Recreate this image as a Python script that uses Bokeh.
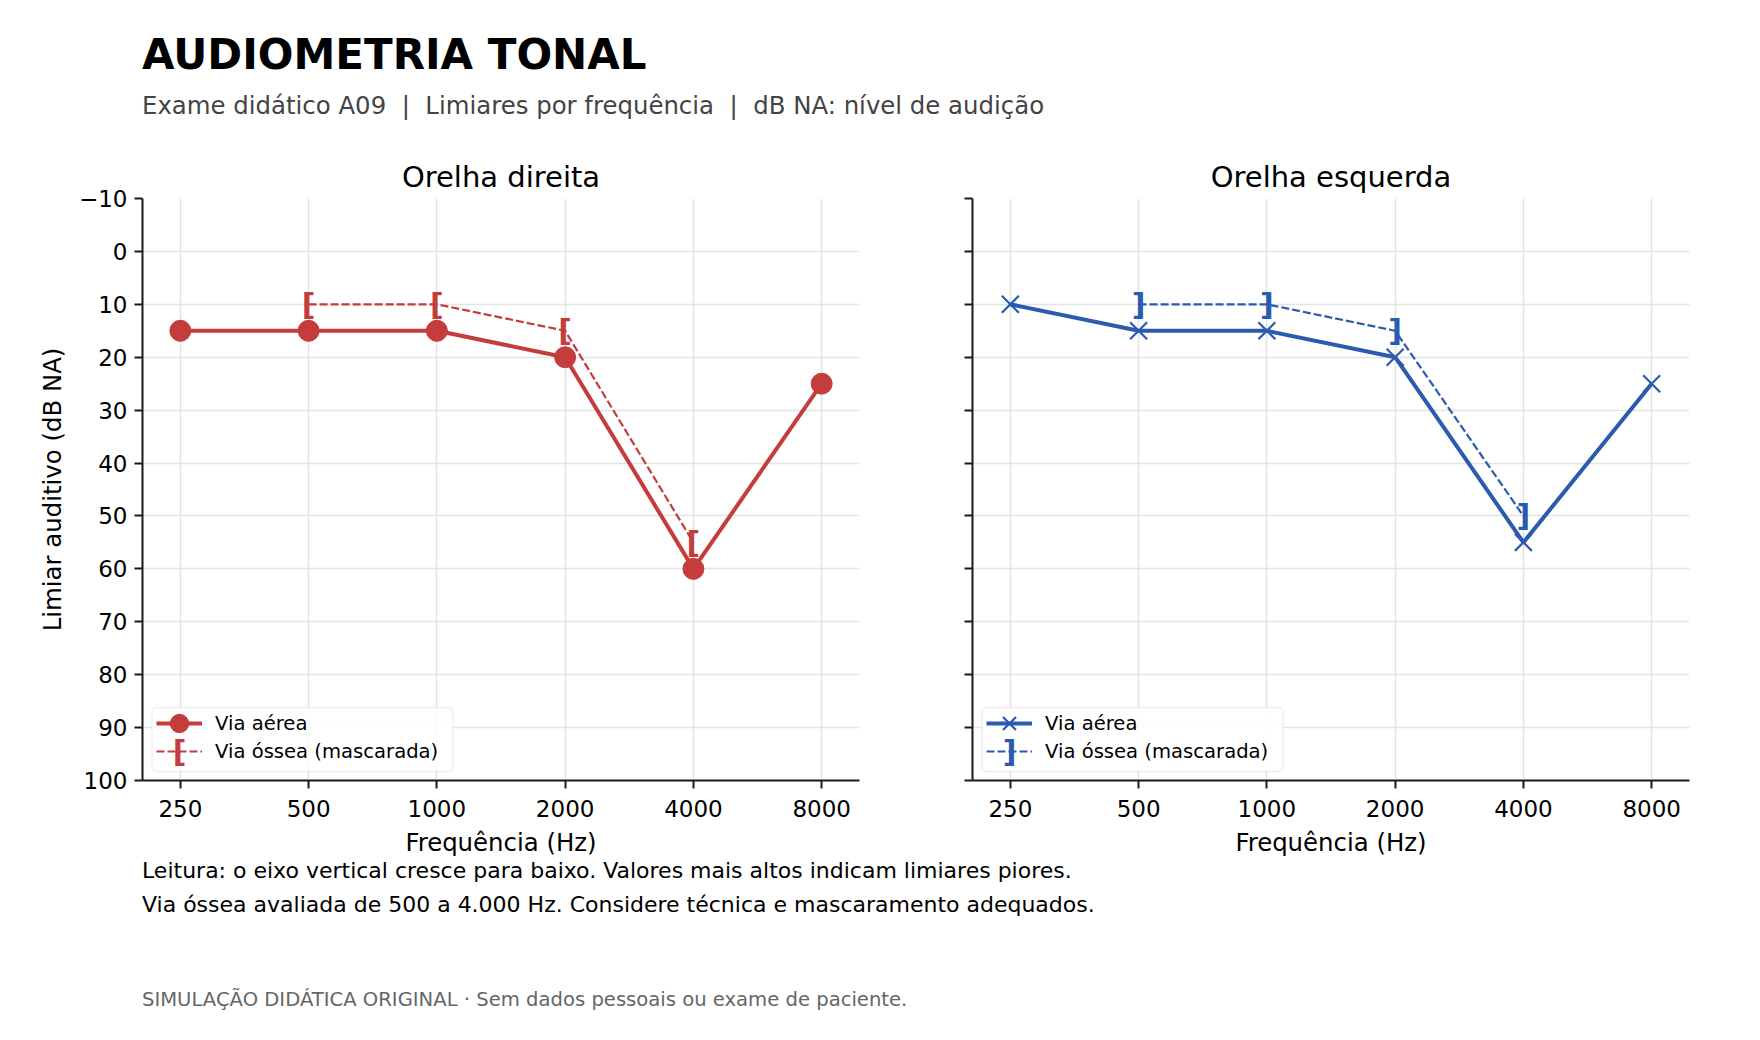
import math
from bokeh.plotting import figure
from bokeh.models import Range1d, FixedTicker, Legend, LegendItem, Label, BoxAnnotation
from bokeh.layouts import column, row
from bokeh.embed import file_html
from bokeh.resources import INLINE
from bokeh.core.properties import value

# ---------------- data ----------------
freqs = [250, 500, 1000, 2000, 4000, 8000]
freq_labels = ["250", "500", "1000", "2000", "4000", "8000"]
right_air = [15, 15, 15, 20, 60, 25]
left_air = [10, 15, 15, 20, 55, 25]
bone_freqs = [500, 1000, 2000, 4000]
right_bone = [10, 10, 15, 55]
left_bone = [10, 10, 15, 50]
yticks = [-10, 0, 10, 20, 30, 40, 50, 60, 70, 80, 90, 100]

RED = "#C43C3C"
BLUE = "#2A5BAF"
FONT = "DejaVu Sans"
DARK = "#1a1a1a"

FRAME_W = 717
FRAME_H = 582
X_PAD_OCT = 0.295


def legend_style(leg):
    leg.glyph_width = 46
    leg.glyph_height = 50
    leg.label_height = 22
    leg.label_standoff = 13
    leg.padding = 0
    leg.spacing = 0
    leg.margin = 0
    leg.label_text_font = FONT
    leg.label_text_font_size = "19.6px"
    leg.label_text_color = "black"
    leg.border_line_color = None
    leg.background_fill_color = None
    leg.background_fill_alpha = 0


def panel(title, air, bone, color, marker, bracket, first):
    xmin = freqs[0] / 2 ** X_PAD_OCT
    xmax = freqs[-1] * 2 ** X_PAD_OCT
    ybot, ytop = yticks[-1], yticks[0]
    p = figure(
        x_axis_type="log",
        x_range=Range1d(xmin, xmax),
        y_range=Range1d(ybot, ytop),
        frame_width=FRAME_W,
        frame_height=FRAME_H,
        min_border_left=142 if first else 20,
        min_border_right=93 if first else 40,
        min_border_top=68,
        min_border_bottom=76,
        toolbar_location=None,
        output_backend="svg",
        background_fill_color="white",
        border_fill_color="white",
    )
    p.outline_line_color = None

    # pixel offsets inside the frame -> data (legend frame / swatch only)
    px_oct = FRAME_W / math.log2(xmax / xmin)
    px_unit = FRAME_H / (ybot - ytop)

    def xd(px):
        return xmin * 2 ** (px / px_oct)

    def yd(px):
        return ybot - px / px_unit

    # title
    p.title.text = title
    p.title.align = "center"
    p.title.text_font = FONT
    p.title.text_font_size = "29px"
    p.title.text_font_style = "normal"
    p.title.text_color = "black"
    p.title.standoff = 10

    # ticks
    tick_x = FixedTicker(ticks=freqs)
    tick_y = FixedTicker(ticks=yticks)
    p.xaxis.ticker = tick_x
    p.yaxis.ticker = tick_y
    p.xgrid.ticker = tick_x
    p.ygrid.ticker = tick_y
    p.xaxis.major_label_overrides = {f: lab for f, lab in zip(freqs, freq_labels)}
    p.yaxis.major_label_overrides = {yticks[0]: "\u2212" + str(abs(yticks[0]))}

    for ax in (p.xaxis[0], p.yaxis[0]):
        ax.axis_line_width = 2
        ax.axis_line_color = DARK
        ax.major_tick_line_width = 2
        ax.major_tick_line_color = DARK
        ax.major_tick_out = 8
        ax.major_tick_in = 0
        ax.minor_tick_out = 0
        ax.minor_tick_in = 0
        ax.major_label_text_font = FONT
        ax.major_label_text_font_size = "23px"
        ax.major_label_text_color = "black"
        ax.axis_label_text_font = FONT
        ax.axis_label_text_font_size = "24.4px"
        ax.axis_label_text_font_style = "normal"
        ax.axis_label_text_color = "black"

    p.xaxis.major_label_standoff = 11
    p.yaxis.major_label_standoff = 7
    p.xaxis.axis_label = "Frequência (Hz)"
    p.xaxis.axis_label_standoff = 8
    if first:
        p.yaxis.axis_label = "Limiar auditivo (dB NA)"
        p.yaxis.axis_label_standoff = 9
    else:
        p.yaxis.major_label_text_font_size = "0px"
        p.yaxis.major_label_text_alpha = 0

    p.grid.grid_line_color = "#e4e4e4"
    p.grid.grid_line_width = 1.6

    # glyphs
    bone_line = p.line(bone_freqs, bone, line_color=color, line_width=2.2, line_dash="8 3")
    air_line = p.line(freqs, air, line_color=color, line_width=4)
    if marker == "circle":
        air_pts = p.scatter(freqs, air, marker="circle", size=21, fill_color=color, line_color=color)
    else:
        air_pts = p.scatter(freqs, air, marker="x", size=24, line_color=color, line_width=2.2)
    bracket_style = dict(text=value(bracket), text_color=color, text_font=value(FONT),
                         text_font_style="bold", text_font_size=value("30px"),
                         text_align="center", text_baseline="middle")
    p.text(bone_freqs, bone, **bracket_style)

    # legend frame
    box = BoxAnnotation(left=xd(9.5), right=xd(310.5), top=yd(73), bottom=yd(9),
                        fill_color="white", fill_alpha=0.85,
                        line_color="#cccccc", line_width=1.5, border_radius=4)
    p.add_layout(box)

    leg_air = Legend(items=[LegendItem(label="Via aérea", renderers=[air_line, air_pts])],
                     location=(14, 32))
    leg_bone = Legend(items=[LegendItem(label="Via óssea (mascarada)", renderers=[bone_line])],
                      location=(14, 4))
    legend_style(leg_air)
    legend_style(leg_bone)
    p.add_layout(leg_air)
    p.add_layout(leg_bone)
    # bracket symbol of the legend entry (drawn like the plot brackets, above the legend)
    p.text([xd(37)], [yd(29)], level="overlay", **bracket_style)
    return p


def blank(width, height):
    b = figure(
        width=width,
        height=height,
        x_range=Range1d(0, width),
        y_range=Range1d(height, 0),
        x_axis_location=None,
        y_axis_location=None,
        toolbar_location=None,
        output_backend="svg",
        min_border=0,
    )
    b.grid.visible = False
    b.outline_line_color = None
    return b


TOTAL_W = 952 + 777

header = blank(TOTAL_W, 130)
header.add_layout(Label(x=141.5, y=53.5, text="AUDIOMETRIA TONAL", text_font=FONT,
                        text_font_size="42px", text_font_style="bold", text_color="black",
                        text_baseline="alphabetic"))
header.add_layout(Label(x=141.5, y=105.3,
                        text="Exame didático A09\u00a0\u00a0|\u00a0\u00a0Limiares por frequência\u00a0\u00a0|\u00a0\u00a0dB NA: nível de audição",
                        text_font=FONT, text_font_size="24.4px", text_color="#444444",
                        text_baseline="alphabetic"))

f1 = panel("Orelha direita", right_air, right_bone, RED, "circle", "[", True)
f2 = panel("Orelha esquerda", left_air, left_bone, BLUE, "x", "]", False)

footer = blank(TOTAL_W, 170)
footer.add_layout(Label(x=141.5, y=11,
                        text="Leitura: o eixo vertical cresce para baixo. Valores mais altos indicam limiares piores.",
                        text_font=FONT, text_font_size="22px", text_color="black",
                        text_baseline="alphabetic"))
footer.add_layout(Label(x=141.5, y=44.8,
                        text="Via óssea avaliada de 500 a 4.000 Hz. Considere técnica e mascaramento adequados.",
                        text_font=FONT, text_font_size="22px", text_color="black",
                        text_baseline="alphabetic"))
footer.add_layout(Label(x=141.5, y=139.8,
                        text="SIMULAÇÃO DIDÁTICA ORIGINAL · Sem dados pessoais ou exame de paciente.",
                        text_font=FONT, text_font_size="19.6px", text_color="#666666",
                        text_baseline="alphabetic"))

layout = column(header, row(f1, f2), footer)

open("out.html", "w").write(file_html(layout, INLINE))
